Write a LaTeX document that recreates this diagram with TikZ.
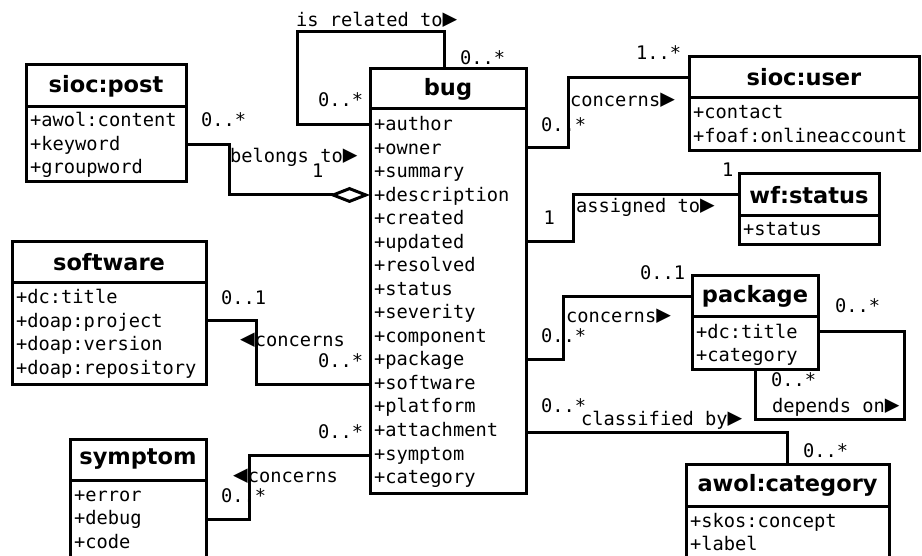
\documentclass[tikz,border=0pt]{standalone}
\usepackage{fontspec}
\usepackage{tikz}
\usetikzlibrary{arrows.meta}
\setmainfont{DejaVu Sans}
\newfontfamily\monofam{DejaVu Sans Mono}
\newcommand{\rtri}{\scalebox{1.3}{▶}}
\newcommand{\ltri}{\scalebox{1.3}{◀}}

\begin{document}
\begin{tikzpicture}[x=1pt, y=-1pt,
    classhead/.style={draw, rectangle, line width=3pt, outer sep=0pt, inner sep=0pt, minimum height=41pt, font={\fontsize{22.5}{27}\selectfont\bfseries}},
    attrbox/.style={draw, rectangle, line width=3pt, outer sep=0pt, inner sep=0pt, anchor=north},
    attr/.style={anchor=base west, inner sep=0pt, font={\fontsize{18.7}{23.5}\selectfont\monofam}},
    lbl/.style={anchor=base west, inner sep=0pt, font={\fontsize{18.7}{23.5}\selectfont\monofam}},
    assoc/.style={line width=3pt}
]
    \useasboundingbox (0,0) rectangle (922,556);
    \clip (0,0) rectangle (922,556);

    % Class boxes
    \node [classhead, minimum width=156pt, minimum height=40pt] (bug) at (448,89) {bug};
    \node [attrbox, minimum width=156pt, minimum height=384pt] (bugattr) at (bug.south) {};
    \node [classhead, minimum width=160pt, minimum height=42pt] (post) at (106,86) {sioc:post};
    \node [attrbox, minimum width=160pt, minimum height=75pt] (postattr) at (post.south) {};
    \node [classhead, minimum width=230pt] (user) at (804,77.5) {sioc:user};
    \node [attrbox, minimum width=230pt, minimum height=53pt] (userattr) at (user.south) {};
    \node [classhead, minimum width=140pt, minimum height=42pt] (status) at (809,195) {wf:status};
    \node [attrbox, minimum width=140pt, minimum height=29pt] (statusattr) at (status.south) {};
    \node [classhead, minimum width=194pt] (sw) at (109,262.5) {software};
    \node [attrbox, minimum width=194pt, minimum height=101pt] (swattr) at (sw.south) {};
    \node [classhead, minimum width=136pt] (sym) at (138,459.5) {symptom};
    \node [attrbox, minimum width=136pt, minimum height=150pt] (symattr) at (sym.south) {};
    \node [classhead, minimum width=126pt] (pkg) at (755,296.5) {package};
    \node [attrbox, minimum width=126pt, minimum height=53pt] (pkgattr) at (pkg.south) {};
    \node [classhead, minimum width=203pt, minimum height=42pt] (awol) at (787.5,485) {awol:category};
    \node [attrbox, minimum width=203pt, minimum height=150pt] (awolattr) at (awol.south) {};

    % Attributes
    \foreach \i/\prop in {0/author, 1/owner, 2/summary, 3/description, 4/created, 5/updated, 6/resolved, 7/status, 8/severity, 9/component, 10/package, 11/software, 12/platform, 13/attachment, 14/symptom, 15/category} {
        \node [attr] (bug\i) at ([xshift=4pt, yshift=-22pt-\i*23.5pt]bugattr.north west) {+\prop};
    }
    \foreach \i/\prop in {0/awol:content, 1/keyword, 2/groupword} {
        \node [attr] (post\i) at ([xshift=4pt, yshift=-20pt-\i*23.5pt]postattr.north west) {+\prop};
    }
    \foreach \i/\prop in {0/contact, 1/foaf:onlineaccount} {
        \node [attr] (user\i) at ([xshift=4pt, yshift=-21pt-\i*23.5pt]userattr.north west) {+\prop};
    }
    \node [attr] (status0) at ([xshift=4pt, yshift=-20pt]statusattr.north west) {+status};
    \foreach \i/\prop in {0/dc:title, 1/doap:project, 2/doap:version, 3/doap:repository} {
        \node [attr] (sw\i) at ([xshift=4pt, yshift=-21pt-\i*23.5pt]swattr.north west) {+\prop};
    }
    \foreach \i/\prop in {0/error, 1/debug, 2/code} {
        \node [attr] (sym\i) at ([xshift=4pt, yshift=-21pt-\i*23.5pt]symattr.north west) {+\prop};
    }
    \foreach \i/\prop in {0/dc:title, 1/category} {
        \node [attr] (pkg\i) at ([xshift=4pt, yshift=-21pt-\i*23.5pt]pkgattr.north west) {+\prop};
    }
    \foreach \i/\prop in {0/skos:concept, 1/label} {
        \node [attr] (awol\i) at ([xshift=4pt, yshift=-21pt-\i*23.5pt]awolattr.north west) {+\prop};
    }

    % Associations
    \draw [assoc] ([yshift=-16pt]bugattr.north west) -| (297,32) -| ([xshift=-4pt]bug.north);
    \draw [assoc, -{Diamond[open, length=41pt, width=16pt]}] ([yshift=-38pt]postattr.north east) -| (229,195) -- ([yshift=-86pt]bugattr.north west);
    \draw [assoc] ([yshift=-39pt]bugattr.north east) -- ++(42,0) |- (user.west);
    \draw [assoc] ([yshift=-133pt]bugattr.north east) -- ++(47,0) |- (status.west);
    \draw [assoc] ([yshift=-251pt]bugattr.north east) -- ++(37,0) |- (pkg.west);
    \draw [assoc] ([yshift=-15pt]pkgattr.north east) -- ++(86,0) -- ++(0,87) -| (pkgattr.south);
    \draw [assoc] ([yshift=-323pt]bugattr.north east) -| (awol.north);
    \draw [assoc] ([yshift=-275pt]bugattr.north west) -- ++(-114,0) |- ([yshift=-38pt]swattr.north east);
    \draw [assoc] ([yshift=-346pt]bugattr.north west) -- ++(-121,0) |- ([yshift=-39pt]symattr.north east);

    % Role names and multiplicities
    \foreach \x/\y/\t [count=\n] in {296/27/is related to\rtri, 460/65/0..*, 318/107/0..*,
        201/127/0..*, 230/163/belongs to\rtri, 312/178/1,
        636/60/1..*, 570/107/concerns\rtri, 541/132/0..*,
        722/177/1, 576/213/assigned to\rtri, 543.5/225/1,
        221/305/0..1, 240/347/\ltri concerns, 318/367/0..*,
        318/438/0..*, 233/482/\ltri concerns, 221/502/0..*,
        640/280/0..1, 566/323/concerns\rtri, 541/343/0..*,
        835/313/0..*, 771/387/0..*, 772/413/depends on\rtri,
        541/413/0..*, 581/425/classified by\rtri, 803/457/0..*} {
        \node [lbl] (lbl\n) at (\x,\y) {\t};
    }
\end{tikzpicture}
\end{document}
